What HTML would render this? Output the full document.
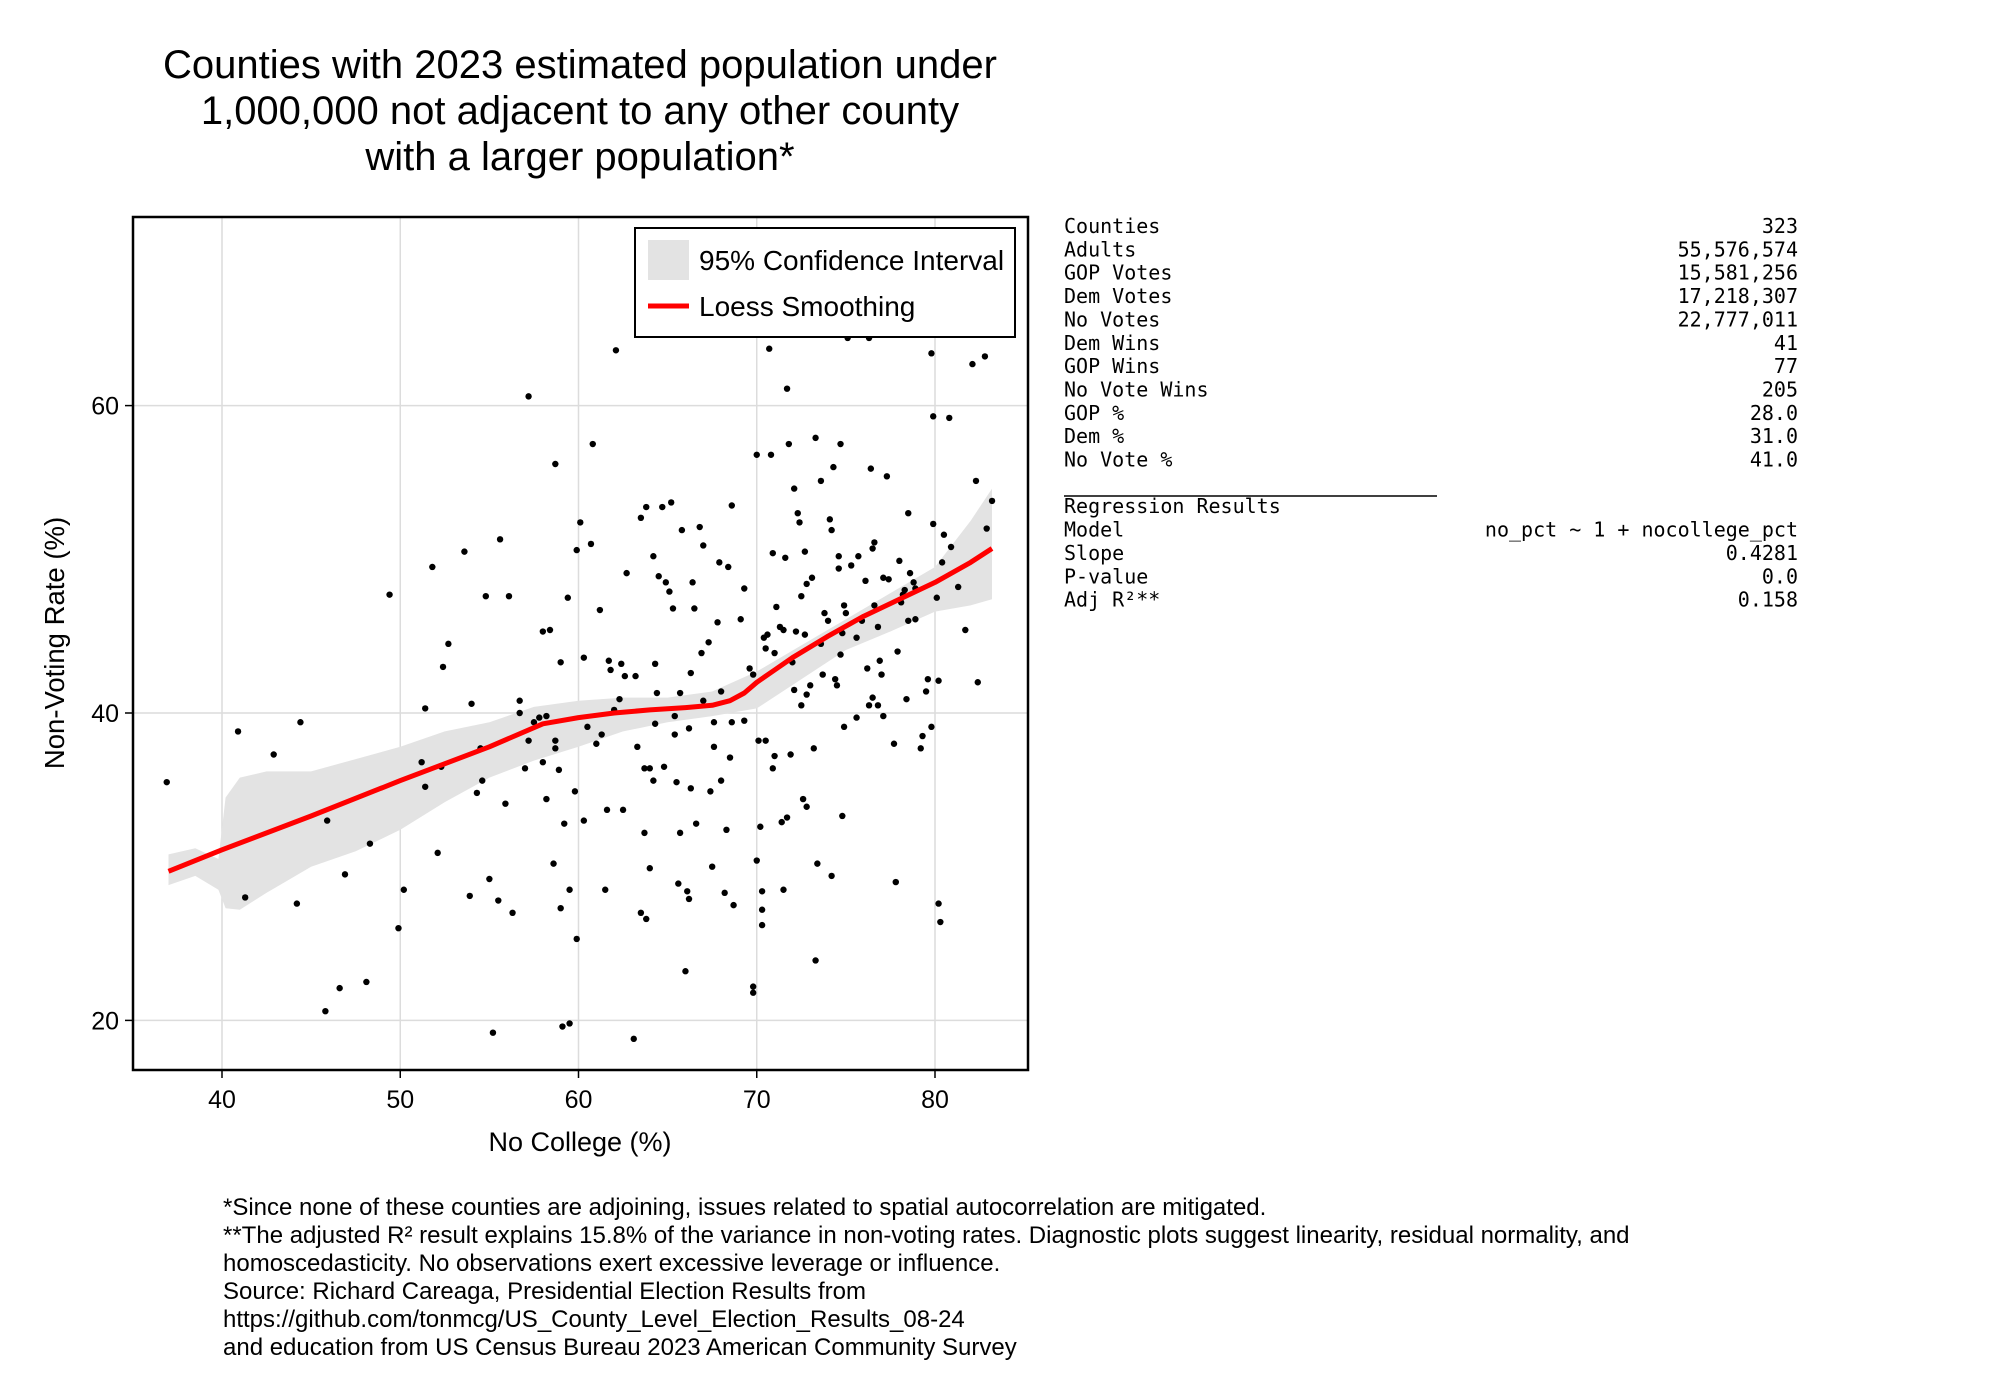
<!DOCTYPE html>
<html><head><meta charset="utf-8"><style>
html,body{margin:0;padding:0;background:#fff;}
svg{display:block;}
.sans{font-family:"Liberation Sans",sans-serif;}
.mono{font-family:"DejaVu Sans Mono","Liberation Mono",monospace;}
</style></head><body>
<svg id="chart" width="2000" height="1400" viewBox="0 0 2000 1400" xmlns="http://www.w3.org/2000/svg">
<rect width="2000" height="1400" fill="#fff"/>
<g class="sans" font-size="40" text-anchor="middle" fill="#000">
<text x="580" y="78">Counties with 2023 estimated population under</text>
<text x="580" y="124">1,000,000 not adjacent to any other county</text>
<text x="580" y="170">with a larger population*</text>
</g>
<g id="grid"></g>
<g id="band"></g>
<g id="points"></g>
<g id="loess"></g>
<rect x="133" y="217" width="895" height="853" fill="none" stroke="#000" stroke-width="2.5"/>
<g id="ticks" class="sans" font-size="25" fill="#000"></g>
<text class="sans" x="580" y="1151" font-size="27" text-anchor="middle">No College (%)</text>
<text class="sans" x="0" y="0" font-size="27.5" text-anchor="middle" transform="translate(64,643) rotate(-90)">Non-Voting Rate (%)</text>
<g>
<rect x="635" y="228" width="380" height="109" fill="#fff" stroke="#000" stroke-width="2"/>
<rect x="648" y="240" width="41" height="40" fill="#e3e3e3"/>
<text class="sans" x="699" y="270" font-size="28">95% Confidence Interval</text>
<line x1="648" y1="306" x2="689" y2="306" stroke="#ff0000" stroke-width="5"/>
<text class="sans" x="699" y="316" font-size="28">Loess Smoothing</text>
</g>
<g id="stats" class="mono" font-size="20" fill="#000"></g>
<g class="sans" font-size="24" fill="#000">
<text x="223" y="1215">*Since none of these counties are adjoining, issues related to spatial autocorrelation are mitigated.</text>
<text x="223" y="1243">**The adjusted R² result explains 15.8% of the variance in non-voting rates.  Diagnostic plots suggest linearity, residual normality, and</text>
<text x="223" y="1271">homoscedasticity. No observations exert excessive leverage or influence.</text>
<text x="223" y="1299">Source: Richard Careaga, Presidential Election Results from</text>
<text x="223" y="1327">https://github.com/tonmcg/US_County_Level_Election_Results_08-24</text>
<text x="223" y="1355">and education from US Census Bureau 2023 American Community Survey</text>
</g>
</svg>
<script>
const xTicks = [40, 50, 60, 70, 80];
const yTicks = [20, 40, 60];
const ptX = [36.9,40.9,42.9,44.4,41.3,44.2,45.9,45.8,46.6,46.9,48.1,48.3,49.4,49.9,50.2,51.2,51.4,51.4,51.8,52.1,52.4,52.7,52.3,53.6,53.9,54.0,54.3,54.5,54.6,54.8,55.0,55.2,55.5,55.6,55.9,56.1,56.3,56.7,56.7,57.0,57.2,57.2,57.5,57.8,58.0,58.0,58.2,58.2,58.4,58.6,58.7,58.7,58.7,58.9,59.0,59.0,59.1,59.2,59.4,59.5,59.5,59.8,59.9,59.9,60.1,60.3,60.3,60.5,60.7,60.8,61.0,61.2,61.3,61.5,61.6,61.7,61.8,62.0,62.1,62.3,62.4,62.5,62.6,62.7,63.1,63.2,63.3,63.5,63.5,63.7,63.7,63.8,63.8,64.0,64.0,64.2,64.2,64.3,64.3,64.4,64.5,64.7,64.8,64.9,65.1,65.2,65.3,65.4,65.4,65.5,65.6,65.7,65.7,65.8,66.0,66.1,66.2,66.2,66.3,66.3,66.4,66.5,66.6,66.8,66.9,67.0,67.0,67.3,67.4,67.5,67.6,67.6,67.8,67.9,68.0,68.0,68.2,68.3,68.4,68.5,68.6,68.6,68.7,69.1,69.3,69.3,69.6,69.8,69.8,69.8,70.0,70.0,70.1,70.2,70.3,70.3,70.3,70.4,70.5,70.5,70.6,70.7,70.8,70.9,70.9,71.0,71.0,71.1,71.3,71.4,71.5,71.5,71.6,71.7,71.7,71.8,71.9,72.0,72.1,72.1,72.2,72.3,72.4,72.5,72.5,72.6,72.7,72.7,72.8,72.8,72.8,73.0,73.1,73.2,73.3,73.3,73.4,73.6,73.6,73.7,73.8,74.0,74.1,74.2,74.2,74.3,74.4,74.5,74.6,74.6,74.7,74.7,74.8,74.8,74.9,74.9,75.0,75.1,75.3,75.6,75.6,75.7,75.9,76.1,76.2,76.3,76.3,76.4,76.5,76.5,76.6,76.6,76.8,76.8,76.9,77.0,77.1,77.1,77.3,77.4,77.7,77.8,77.9,78.0,78.1,78.2,78.3,78.4,78.5,78.5,78.6,78.8,78.9,78.9,79.2,79.3,79.5,79.6,79.8,79.8,79.9,79.9,80.1,80.2,80.2,80.3,80.4,80.5,80.8,80.9,81.3,81.7,82.1,82.3,82.4,82.8,82.9,83.2];
const ptY = [35.5,38.8,37.3,39.4,28.0,27.6,33.0,20.6,22.1,29.5,22.5,31.5,47.7,26.0,28.5,36.8,35.2,40.3,49.5,30.9,43.0,44.5,36.5,50.5,28.1,40.6,34.8,37.7,35.6,47.6,29.2,19.2,27.8,51.3,34.1,47.6,27.0,40.8,40.0,36.4,38.2,60.6,39.4,39.7,45.3,36.8,34.4,39.8,45.4,30.2,56.2,38.2,37.7,36.3,43.3,27.3,19.6,32.8,47.5,19.8,28.5,34.9,25.3,50.6,52.4,43.6,33.0,39.1,51.0,57.5,38.0,46.7,38.6,28.5,33.7,43.4,42.8,40.2,63.6,40.9,43.2,33.7,42.4,49.1,18.8,42.4,37.8,27.0,52.7,36.4,32.2,53.4,26.6,29.9,36.4,35.6,50.2,43.2,39.3,41.3,48.9,53.4,36.5,48.5,47.9,53.7,46.8,38.6,39.8,35.5,28.9,32.2,41.3,51.9,23.2,28.4,27.9,39.0,35.1,42.6,48.5,46.8,32.8,52.1,43.9,40.8,50.9,44.6,34.9,30.0,39.4,37.8,45.9,49.8,35.6,41.4,28.3,32.4,49.5,37.1,39.4,53.5,27.5,46.1,48.1,39.5,42.9,42.5,22.2,21.8,56.8,30.4,38.2,32.6,28.4,27.2,26.2,44.9,38.2,44.2,45.1,63.7,56.8,50.4,36.4,43.9,37.2,46.9,45.6,32.9,28.5,45.4,50.1,33.2,61.1,57.5,37.3,43.3,54.6,41.5,45.3,53.0,52.4,47.6,40.5,34.4,45.1,50.5,33.9,41.2,48.4,41.8,48.8,37.7,23.9,57.9,30.2,44.5,55.1,42.5,46.5,46.0,52.6,29.4,51.9,56.0,42.2,41.8,50.2,49.4,57.5,43.8,33.3,45.2,39.1,47.0,46.5,64.4,49.6,39.7,44.9,50.2,46.0,48.6,42.9,40.5,64.4,55.9,50.7,41.0,51.1,47.0,40.5,45.6,43.4,42.5,48.8,39.8,55.4,48.7,38.0,29.0,44.0,49.9,47.2,47.7,48.0,40.9,46.0,53.0,49.1,48.5,46.1,48.1,37.7,38.5,41.4,42.2,63.4,39.1,52.3,59.3,47.5,42.1,27.6,26.4,49.8,51.6,59.2,50.8,48.2,45.4,62.7,55.1,42.0,63.2,52.0,53.8];
const loessX = [37,40,45,50,55,58,60,62,64,66,67.5,68.5,69.3,70,71,72,74,76,78,80,82,83.2];
const loessY = [29.7,31.1,33.3,35.6,37.8,39.3,39.7,40.0,40.2,40.35,40.5,40.8,41.3,42.0,42.8,43.6,45.0,46.3,47.4,48.5,49.8,50.7];
const bandX = [37,38.5,39.8,40.2,41,42.5,45,47.5,50,52.5,55,57.5,60,62.5,65,67.5,70,72.5,75,77.5,80,82,83.2];
const bandLo = [28.8,29.4,28.5,27.3,27.2,28.3,30.0,31.0,32.4,34.2,35.8,36.9,37.8,38.8,39.4,39.8,40.3,42.2,44.1,45.3,46.6,47.0,47.4];
const bandHi = [30.8,31.2,30.5,34.5,35.8,36.2,36.2,37.0,37.8,38.8,39.4,40.4,40.8,41.0,41.0,41.4,42.7,44.4,46.1,47.8,49.5,52.5,54.6];
const statLabels = ["Counties","Adults","GOP Votes","Dem Votes","No Votes","Dem Wins","GOP Wins","No Vote Wins","GOP %","Dem %","No Vote %"];
const statValues = ["323","55,576,574","15,581,256","17,218,307","22,777,011","41","77","205","28.0","31.0","41.0"];
const regLabels = ["Regression Results","Model","Slope","P-value","Adj R²**"];
const regValues = ["","no_pct ~ 1 + nocollege_pct","0.4281","0.0","0.158"];

const NS = "http://www.w3.org/2000/svg";
const X0 = 133, X1 = 1028, Y0 = 217, Y1 = 1070;
function sx(v){ return 222 + (v - 40) * (935 - 222) / 40; }
function sy(v){ return 1020.4 - (v - 20) * (1020.4 - 405.6) / 40; }
function mk(tag, attrs, parent){ const e = document.createElementNS(NS, tag); for (const k in attrs) e.setAttribute(k, attrs[k]); parent.appendChild(e); return e; }

const grid = document.getElementById('grid');
const ticks = document.getElementById('ticks');
xTicks.forEach(t => {
  const l = mk('line', {x1: sx(t), x2: sx(t), y1: Y0, y2: Y1, stroke: '#dcdcdc', 'stroke-width': 1.5}, grid);
  
  
  const tk = mk('line', {x1: sx(t), x2: sx(t), y1: Y1, y2: Y1 + 8, stroke: '#000', 'stroke-width': 1.5}, ticks);
  
  
  const tx = mk('text', {x: sx(t), y: Y1 + 38, 'text-anchor': 'middle'}, ticks);
  tx.textContent = t;
  
  
});
yTicks.forEach(t => {
  const l = mk('line', {x1: X0, x2: X1, y1: sy(t), y2: sy(t), stroke: '#dcdcdc', 'stroke-width': 1.5}, grid);
  
  
  const tk = mk('line', {x1: X0 - 8, x2: X0, y1: sy(t), y2: sy(t), stroke: '#000', 'stroke-width': 1.5}, ticks);
  
  
  const tx = mk('text', {x: X0 - 14, y: sy(t) + 9, 'text-anchor': 'end'}, ticks);
  tx.textContent = t;
  
  
});

let d = '';
bandX.forEach((v, i) => { d += (i ? 'L' : 'M') + sx(v).toFixed(1) + ',' + sy(bandHi[i]).toFixed(1); });
for (let i = bandX.length - 1; i >= 0; i--) d += 'L' + sx(bandX[i]).toFixed(1) + ',' + sy(bandLo[i]).toFixed(1);
const band = mk('path', {d: d + 'Z', fill: '#e3e3e3'}, document.getElementById('band'));



const pts = document.getElementById('points');
ptX.forEach((v, i) => {
  const c = mk('circle', {cx: sx(v), cy: sy(ptY[i]), r: 3.2, fill: '#000'}, pts);
  
  
});

const lp = loessX.map((v, i) => sx(v).toFixed(1) + ',' + sy(loessY[i]).toFixed(1)).join(' ');
const pl = mk('polyline', {points: lp, fill: 'none', stroke: '#ff0000', 'stroke-width': 5, 'stroke-linejoin': 'round'}, document.getElementById('loess'));



const st = document.getElementById('stats');
const step = 23.35, top0 = 233;
statLabels.forEach((s, i) => {
  const a = mk('text', {x: 1064, y: top0 + i * step}, st); a.textContent = s;
  
  
  const b = mk('text', {x: 1798, y: top0 + i * step, 'text-anchor': 'end'}, st); b.textContent = statValues[i];
  
  
});
const ul = mk('line', {x1: 1064, x2: 1437, y1: 496, y2: 496, stroke: '#000', 'stroke-width': 1.5}, st);


regLabels.forEach((s, i) => {
  const yy = top0 + (12 + i) * step;
  const a = mk('text', {x: 1064, y: yy}, st); a.textContent = s;
  
  
  const b = mk('text', {x: 1798, y: yy, 'text-anchor': 'end'}, st); b.textContent = regValues[i];
  
  
});
</script>
</body></html>
